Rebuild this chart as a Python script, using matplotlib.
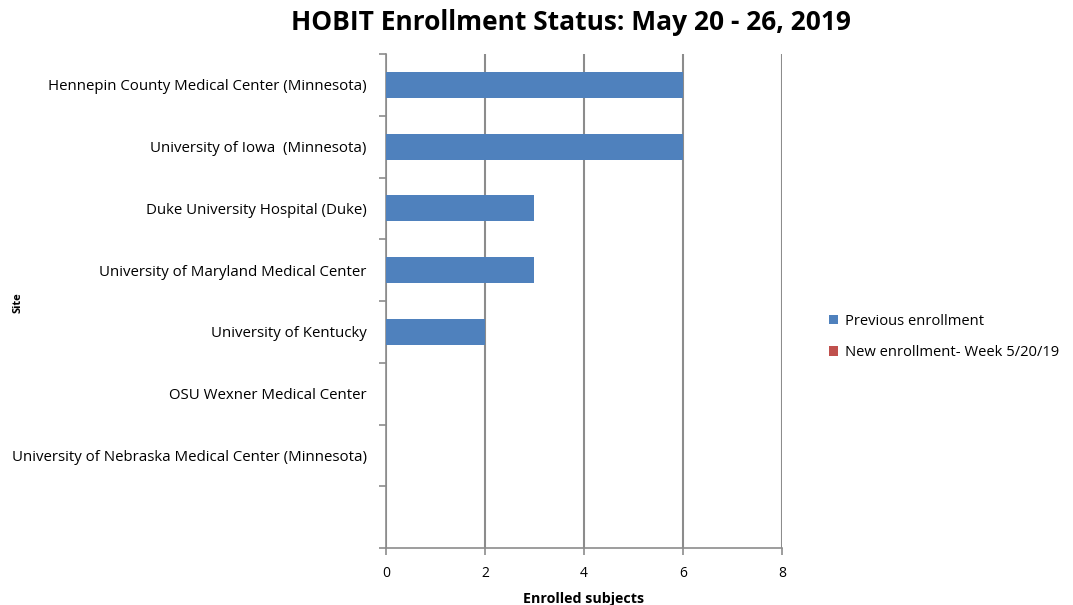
import numpy as np
import matplotlib.pyplot as plt

# data
sites = ["Hennepin County Medical Center (Minnesota)",
         "University of Iowa  (Minnesota)",
         "Duke University Hospital (Duke)",
         "University of Maryland Medical Center",
         "University of Kentucky",
         "OSU Wexner Medical Center",
         "University of Nebraska Medical Center (Minnesota)",
         ""]
previous = [6, 6, 3, 3, 2, 0, 0, 0]
new_week = [0, 0, 0, 0, 0, 0, 0, 0]
xticks = [0, 2, 4, 6, 8]

plt.rcParams['font.family'] = ['Open Sans', 'DejaVu Sans']

fig = plt.figure(figsize=(10.73, 6.05), dpi=100)
ax = fig.add_axes([0.3597, 0.0942, 0.369, 0.8165])

y = np.arange(len(sites))
ax.barh(y, previous, height=0.42, color='#4F81BD', label='Previous enrollment', zorder=3)
ax.barh(y, new_week, left=previous, height=0.42, color='#C0504D',
        label='New enrollment- Week 5/20/19', zorder=3)

ax.set_ylim(len(sites) - 0.5, -0.5)
ax.set_xlim(0, 8)
ax.set_xticks(xticks)
ax.tick_params(axis='x', labelsize=10, length=5, color='#8c8c8c', width=1.2, pad=8)

# tick marks between categories, labels at centres
ax.set_yticks(np.arange(len(sites) + 1) - 0.5)
ax.set_yticklabels([])
ax.tick_params(axis='y', which='major', length=5, color='#8c8c8c', width=1.2)
ax.set_yticks(y, minor=True)
ax.set_yticklabels(sites, minor=True, fontsize=10.8)
ax.tick_params(axis='y', which='minor', length=0, pad=14)

ax.grid(axis='x', color='#8c8c8c', linewidth=1.5, zorder=0)
for s in ['top', 'right']:
    ax.spines[s].set_visible(False)
for s in ['left', 'bottom']:
    ax.spines[s].set_color('#8c8c8c')
    ax.spines[s].set_linewidth(1.2)

ax.set_xlabel('Enrolled subjects', fontsize=10.3, fontweight='bold', labelpad=8)
fig.text(0.012, 0.5, 'Site', rotation=90, fontsize=8, fontweight='bold', va='center')
fig.text(0.532, 0.962, 'HOBIT Enrollment Status: May 20 - 26, 2019', fontsize=19,
         fontweight='bold', ha='center', va='center')

ax.legend(loc='center left', bbox_to_anchor=(1.085, 0.427), frameon=False, fontsize=10.6,
          handlelength=0.6, handleheight=0.6, labelspacing=1.1, handletextpad=0.5)

fig.savefig('out.png', dpi=100)
